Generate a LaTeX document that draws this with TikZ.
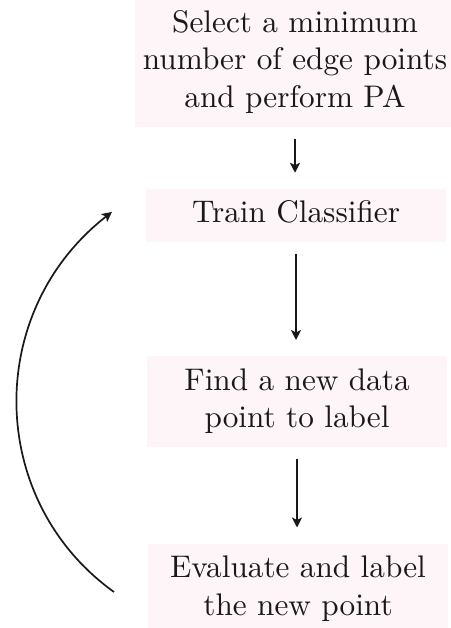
\documentclass[tikz,border=0pt]{standalone}
\usetikzlibrary{arrows.meta,bending}
\definecolor{boxpink}{RGB}{254,245,248}
\definecolor{inkc}{RGB}{25,25,25}
\newcommand{\bigtxt}[1]{\scalebox{3.125}{\fontsize{10pt}{12pt}\selectfont\begin{tabular}{@{}c@{}}#1\end{tabular}}}
\begin{document}
\begin{tikzpicture}[x=1pt,y=-1pt,
  stepbox/.style={inner sep=8pt,outer sep=0pt,fill=boxpink,
    minimum width=300pt,text=inkc},
  flow/.style={draw=inkc,line width=1.7pt,shorten <=12pt,shorten >=16pt,
    -{Stealth[length=10pt,width=10pt,inset=2.5pt]}},
  loop/.style={draw=inkc,line width=1.7pt,
    -{Stealth[length=10pt,width=10pt,inset=2.5pt,bend]}}]
\useasboundingbox (0,0) rectangle (450,628);
\node[stepbox] (sel) at (295,62.5) {\bigtxt{Select a minimum\\number of edge points\\and perform PA}};
\node[stepbox] (train) at (296,215.5) {\bigtxt{Train Classifier}};
\node[stepbox] (find) at (297,401.5) {\bigtxt{Find a new data\\point to label}};
\node[stepbox] (eval) at (298,589) {\bigtxt{Evaluate and label\\the new point}};
\draw[flow] (sel.south) -- (sel.south |- train.north);
\draw[flow] (train.south) -- (train.south |- find.north);
\draw[flow] (find.south) -- (find.south |- eval.north);
\coordinate (loopS) at (114,592);
\coordinate (loopE) at (112,212);
\draw[loop] (loopS) to[bend left=54,looseness=1.07] (loopE);
\end{tikzpicture}
\end{document}
